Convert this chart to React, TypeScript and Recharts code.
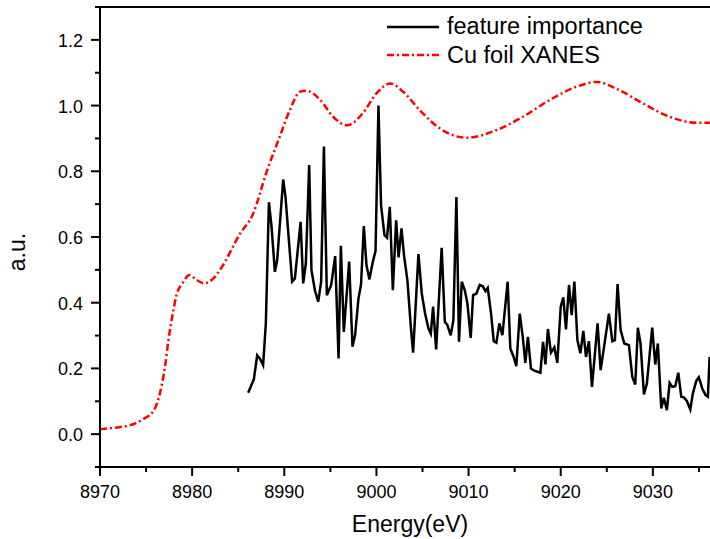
import { LineChart, Line, XAxis, YAxis, Legend, ReferenceLine } from 'recharts';

// Cu foil XANES reference spectrum (smooth)
const xanesEnergy = [
  8970, 8972.2, 8973.6, 8974.7, 8975.9, 8976.5, 8977.05, 8977.4, 8977.9, 8978.3, 8979, 8979.7, 8980.5, 8981.3,
  8982.3, 8983, 8985.2, 8986.6, 8988.1, 8989.5, 8990.6, 8991.7, 8992.4, 8993.9, 8995.3, 8996.8, 8998.5, 9000,
  9001.5, 9002.9, 9004.7, 9006.9, 9009.8, 9013, 9015.9, 9018.8, 9021.7, 9023.9, 9026, 9028.9, 9031.8, 9034.7, 9036.2,
];
const xanesValue = [
  0.015, 0.022, 0.03, 0.046, 0.075, 0.124, 0.205, 0.281, 0.367, 0.423, 0.461, 0.484, 0.469, 0.459,
  0.474, 0.499, 0.61, 0.67, 0.8, 0.905, 0.986, 1.042, 1.045, 1.017, 0.966, 0.94, 0.976, 1.037,
  1.067, 1.042, 0.986, 0.93, 0.902, 0.925, 0.966, 1.017, 1.057, 1.072, 1.052, 1.007, 0.966, 0.948, 0.948,
];

// feature importance (noisy)
const importanceEnergy = [
  8986.08, 8986.7, 8987.06, 8987.35, 8987.7, 8988.0, 8988.33, 8988.62, 8988.98, 8989.23,
  8989.88, 8990.13, 8990.85, 8991.15, 8991.77, 8992.05, 8992.34, 8992.7, 8992.95, 8993.32,
  8993.68, 8994.0, 8994.3, 8994.62, 8995.09, 8995.52, 8995.89, 8996.14, 8996.46, 8997.04,
  8997.4, 8997.68, 8998.05, 8998.33, 8998.63, 8998.92, 8999.24, 8999.61, 8999.9, 9000.22,
  9000.5, 9000.87, 9001.15, 9001.45, 9001.78, 9002.14, 9002.4, 9002.72, 9003.01, 9003.36,
  9003.73, 9003.98, 9004.56, 9004.92, 9005.28, 9005.64, 9005.9, 9006.15, 9006.48, 9007.08,
  9007.42, 9007.7, 9008.06, 9008.35, 9008.68, 9008.96, 9009.26, 9009.59, 9009.87, 9010.23,
  9010.49, 9010.85, 9011.21, 9011.54, 9011.83, 9012.08, 9012.44, 9012.73, 9013.02, 9013.34,
  9013.67, 9014.24, 9014.53, 9014.89, 9015.18, 9015.55, 9015.88, 9016.16, 9016.44, 9016.77,
  9017.14, 9017.79, 9018.08, 9018.34, 9018.61, 9018.94, 9019.31, 9019.63, 9020.0, 9020.28,
  9020.57, 9020.9, 9021.19, 9021.48, 9021.81, 9022.13, 9022.45, 9022.74, 9023.06, 9023.39,
  9024.0, 9024.33, 9025.23, 9025.6, 9025.88, 9026.17, 9026.5, 9026.9, 9027.4, 9027.77,
  9028.09, 9028.37, 9028.66, 9029.03, 9029.35, 9029.93, 9030.26, 9030.54, 9030.91, 9031.19,
  9031.52, 9031.82, 9032.11, 9032.43, 9032.76, 9033.08, 9033.36, 9033.69, 9034.06, 9034.34,
  9034.71, 9034.99, 9035.36, 9035.72, 9035.97, 9036.16,
];
const importanceValue = [
  0.126, 0.167, 0.24, 0.23, 0.21, 0.338, 0.706, 0.631, 0.494, 0.53,
  0.775, 0.722, 0.464, 0.474, 0.646, 0.459, 0.52, 0.819, 0.499, 0.438,
  0.403, 0.464, 0.875, 0.423, 0.454, 0.542, 0.23, 0.573, 0.311, 0.525,
  0.266, 0.301, 0.413, 0.456, 0.633, 0.514, 0.471, 0.525, 0.557, 1.0,
  0.697, 0.606, 0.598, 0.692, 0.438, 0.651, 0.538, 0.626, 0.54, 0.469,
  0.327, 0.248, 0.548, 0.428, 0.367, 0.322, 0.306, 0.388, 0.258, 0.567,
  0.342, 0.332, 0.301, 0.347, 0.722, 0.281, 0.464, 0.438, 0.398, 0.293,
  0.423, 0.428, 0.454, 0.45, 0.435, 0.445, 0.367, 0.283, 0.278, 0.337,
  0.301, 0.464, 0.261, 0.235, 0.207, 0.367, 0.296, 0.217, 0.296, 0.2,
  0.193, 0.187, 0.281, 0.212, 0.32, 0.248, 0.264, 0.217, 0.388, 0.416,
  0.319, 0.454, 0.362, 0.464, 0.286, 0.246, 0.314, 0.235, 0.283, 0.144,
  0.337, 0.195, 0.367, 0.283, 0.286, 0.457, 0.317, 0.276, 0.271, 0.174,
  0.151, 0.324, 0.276, 0.121, 0.154, 0.324, 0.212, 0.276, 0.078, 0.111,
  0.073, 0.156, 0.144, 0.146, 0.187, 0.114, 0.112, 0.101, 0.075, 0.124,
  0.162, 0.173, 0.139, 0.119, 0.114, 0.235,
];

const xTicks = [8970, 8975, 8980, 8985, 8990, 8995, 9000, 9005, 9010, 9015, 9020, 9025, 9030, 9035];
const yTicks = [-0.1, 0, 0.1, 0.2, 0.3, 0.4, 0.5, 0.6, 0.7, 0.8, 0.9, 1.0, 1.1, 1.2, 1.3];

const xanes = xanesEnergy.map((e, i) => ({ e, v: xanesValue[i] }));
const importance = importanceEnergy.map((e, i) => ({ e, v: importanceValue[i] }));

const FONT = '"Liberation Sans", Arial, sans-serif';
const RED_DASH = '7 3 2 3';

const XTick = ({ x, y, payload }: any) => {
  const major = payload.value % 10 === 0;
  return (
    <g>
      <line x1={x} x2={x} y1={y} y2={y + (major ? 9 : 5)} stroke="#000" strokeWidth={2} />
      {major && (
        <text x={x} y={y + 31} textAnchor="middle" fontSize={18} fontFamily={FONT} fill="#000">
          {payload.value}
        </text>
      )}
    </g>
  );
};

const YTick = ({ x, y, payload }: any) => {
  const major = Math.round(payload.value * 10) % 2 === 0;
  return (
    <g>
      <line x1={x - (major ? 9 : 5)} x2={x} y1={y} y2={y} stroke="#000" strokeWidth={2} />
      {major && (
        <text x={x - 17} y={y + 7} textAnchor="end" fontSize={18} fontFamily={FONT} fill="#000">
          {payload.value.toFixed(1)}
        </text>
      )}
    </g>
  );
};

const LegendBox = () => (
  <svg width={330} height={70} style={{ display: 'block' }}>
    <line x1={7} x2={59} y1={17} y2={17} stroke="#000" strokeWidth={2.5} />
    <text x={67} y={24} fontSize={23.5} fontFamily={FONT} fill="#000">feature importance</text>
    <line x1={7} x2={59} y1={45} y2={45} stroke="#ff0000" strokeWidth={2.5} strokeDasharray={RED_DASH} />
    <text x={67} y={53} fontSize={23.5} fontFamily={FONT} fill="#000">Cu foil XANES</text>
  </svg>
);

export default function App() {
  return (
    <div style={{ position: 'absolute', left: 0, top: 0, width: 710, height: 539, overflow: 'hidden', background: '#fff' }}>
      <LineChart width={710} height={539} margin={{ top: 7, right: 0, bottom: 0, left: 0 }}>
        <XAxis
          dataKey="e"
          type="number"
          domain={[8970, 9036.2]}
          ticks={xTicks}
          interval={0}
          height={72}
          tickSize={0}
          tickMargin={0}
          tick={<XTick />}
          axisLine={{ stroke: '#000', strokeWidth: 2 }}
          allowDataOverflow
          label={{
            content: () => (
              <text x={410} y={532} textAnchor="middle" fontSize={23} fontFamily={FONT} fill="#000">
                Energy(eV)
              </text>
            ),
          }}
        />
        <YAxis
          type="number"
          domain={[-0.1, 1.3]}
          ticks={yTicks}
          interval={0}
          width={100}
          tickSize={0}
          tickMargin={0}
          tick={<YTick />}
          axisLine={{ stroke: '#000', strokeWidth: 2 }}
          allowDataOverflow
          label={{
            content: () => (
              <text x={25} y={252} textAnchor="middle" fontSize={23} fontFamily={FONT} fill="#000" transform="rotate(-90, 25, 252)">
                a.u.
              </text>
            ),
          }}
        />
        <ReferenceLine y={1.3} stroke="#000" strokeWidth={2} />
        <Legend
          layout="vertical"
          align="center"
          verticalAlign="middle"
          content={<LegendBox />}
          wrapperStyle={{ position: 'absolute', top: 10, left: 380, width: 330, height: 70 }}
        />
        <Line
          data={xanes}
          dataKey="v"
          type="monotone"
          stroke="#ff0000"
          strokeWidth={2.5}
          strokeDasharray={RED_DASH}
          dot={false}
          isAnimationActive={false}
        />
        <Line
          data={importance}
          dataKey="v"
          type="linear"
          stroke="#000"
          strokeWidth={2.5}
          dot={false}
          isAnimationActive={false}
        />
      </LineChart>
    </div>
  );
}
